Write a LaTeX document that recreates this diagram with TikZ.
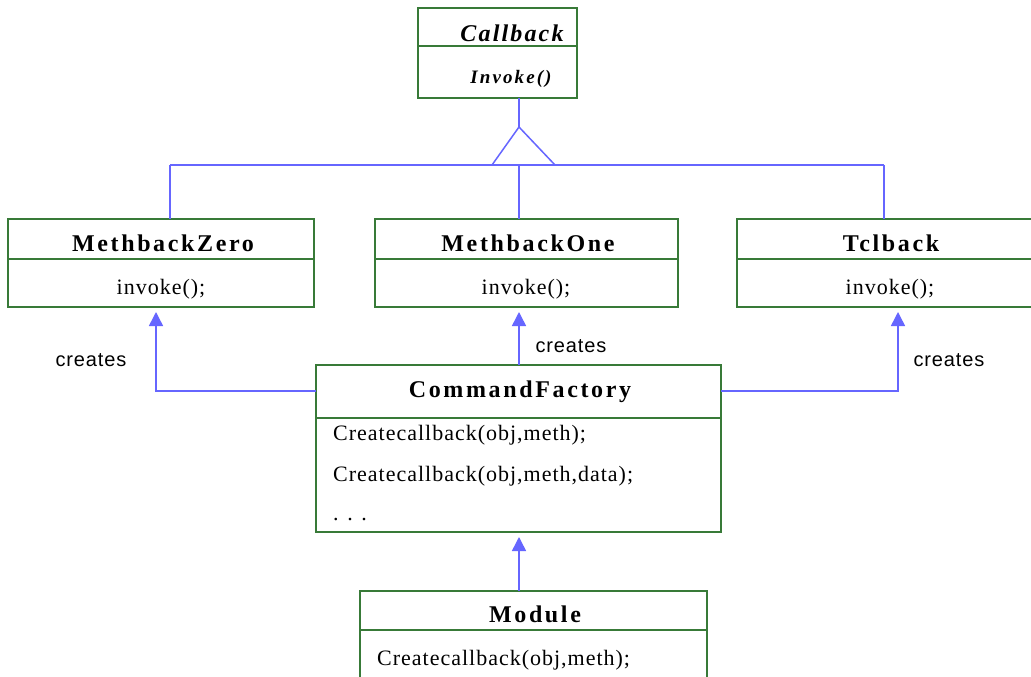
\documentclass[tikz,border=0pt]{standalone}
\usepackage{fontspec}
\setmainfont{Liberation Serif}
\newfontfamily\ttlfam[LetterSpace=11]{Liberation Serif}
\newfontfamily\cbfam[LetterSpace=9]{Liberation Serif}
\newfontfamily\cbmfam[LetterSpace=11]{Liberation Serif}
\newfontfamily\bdyfam[LetterSpace=4.5]{Liberation Serif}
\newfontfamily\lblfam[LetterSpace=4.5]{Liberation Sans}
\usetikzlibrary{arrows.meta}
\definecolor{boxgreen}{RGB}{56,122,56}
\definecolor{connblue}{RGB}{102,102,255}
\begin{document}
\begin{tikzpicture}[x=1pt,y=-1pt,
  box/.style={draw=boxgreen,line width=1.8pt,anchor=north west,inner sep=0pt,outer sep=0pt},
  divider/.style={draw=boxgreen,line width=1.8pt},
  conn/.style={draw=connblue,line width=1.5pt},
  arr/.style={conn,-{Triangle[length=14pt,width=14pt]},shorten >=5pt},
  ttl/.style={font=\ttlfam\bfseries\fontsize{24}{28}\selectfont,anchor=base,inner sep=0pt},
  bdy/.style={font=\bdyfam\fontsize{22}{26}\selectfont,anchor=base,inner sep=0pt},
  bdyl/.style={bdy,anchor=base west},
  lbl/.style={font=\lblfam\fontsize{20}{24}\selectfont,anchor=base,inner sep=0pt}]
\clip (0,0) rectangle (1031,677);
\fill[white] (0,0) rectangle (1031,677);
% boxes
\node[box,minimum width=159pt,minimum height=90pt] (cb) at (418,8) {};
\node[box,minimum width=306pt,minimum height=88pt] (mz) at (8,219) {};
\node[box,minimum width=303pt,minimum height=88pt] (mo) at (375,219) {};
\node[box,minimum width=303pt,minimum height=88pt] (tb) at (737,219) {};
\node[box,minimum width=405pt,minimum height=167pt] (cf) at (316,365) {};
\node[box,minimum width=347pt,minimum height=120pt] (md) at (360,591) {};
% dividers
\draw[divider] (cb.west |- 0,46) -- (cb.east |- 0,46);
\draw[divider] (mz.west |- 0,259) -- (mz.east |- 0,259);
\draw[divider] (mo.west |- 0,259) -- (mo.east |- 0,259);
\draw[divider] (tb.west |- 0,259) -- (tb.east |- 0,259);
\draw[divider] (cf.west |- 0,418) -- (cf.east |- 0,418);
\draw[divider] (md.west |- 0,630) -- (md.east |- 0,630);
% texts
\node[font=\cbfam\bfseries\itshape\fontsize{24}{28}\selectfont,anchor=base,inner sep=0pt] (cbt) at (512,42) {Callback};
\node[font=\cbmfam\bfseries\itshape\fontsize{19}{22}\selectfont,anchor=base,inner sep=0pt] (cbm) at (511,84) {Invoke()};
\node[ttl] (mzt) at (163,251) {MethbackZero};
\node[bdy] (mzm) at (161,294) {invoke();};
\node[ttl] (mot) at (528,251) {MethbackOne};
\node[bdy] (mom) at (526,294) {invoke();};
\node[ttl] (tbt) at (891,251) {Tclback};
\node[bdy] (tbm) at (890,294) {invoke();};
\node[ttl] (cft) at (520,397) {CommandFactory};
\node[bdyl] (cf1) at (333,440) {Createcallback(obj,meth);};
\node[bdyl] (cf2) at (333,481) {Createcallback(obj,meth,data);};
\node[bdyl] (cf3) at (333,520) {. . .};
\node[ttl] (mdt) at (535,622) {Module};
\node[bdyl] (md1) at (377,665) {Createcallback(obj,meth);};
% inheritance
\coordinate (apex) at (519,127);
\coordinate (bl) at (492,165);
\coordinate (br) at (555,165);
\coordinate (hl) at (170,165);
\coordinate (hr) at (884,165);
\draw[conn] (cb.south -| apex) -- (apex);
\draw[conn] (bl) -- (apex) -- (br);
\draw[conn] (hl) -- (hr);
\draw[conn] (hl) -- (hl |- mz.north);
\draw[conn] (hr) -- (hr |- tb.north);
\draw[conn] (apex |- hl) -- (apex |- mo.north);
% creates arrows
\coordinate (cfl) at (316,391);
\coordinate (cfr) at (721,391);
\draw[arr] (cfl) -| (mz.south -| 156,0);
\draw[arr] (cfr) -| (tb.south -| 898,0);
\draw[arr] (cf.north -| apex) -- (mo.south -| apex);
\draw[arr] (md.north -| apex) -- (cf.south -| apex);
\node[lbl] (c1) at (91,366) {creates};
\node[lbl] (c2) at (571,352) {creates};
\node[lbl] (c3) at (949,366) {creates};
\end{tikzpicture}
\end{document}
